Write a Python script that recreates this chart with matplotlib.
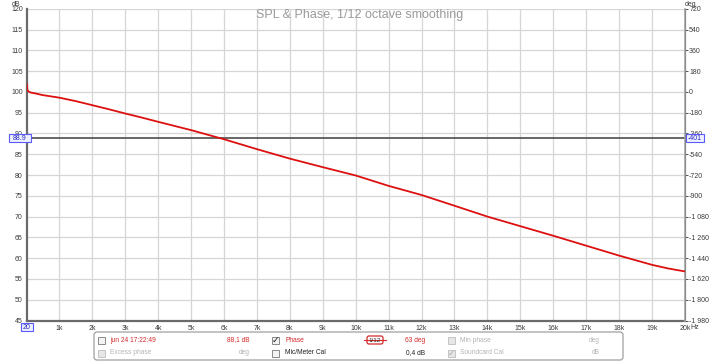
import matplotlib
matplotlib.use("Agg")
import matplotlib.pyplot as plt
from matplotlib.patches import FancyBboxPatch, Rectangle

plt.rcParams['font.family'] = ['Liberation Sans', 'DejaVu Sans']

# === DATA ===
freq_hz = [20, 25, 35, 60, 120, 250, 500, 1000, 1500, 2000, 2500, 3000, 3500,
           4000, 5000, 6000, 7000, 8000, 9000, 10000, 11000, 12000, 13000,
           14000, 15000, 16000, 17000, 18000, 19000, 19500, 20000]
phase_deg = [65, 40, 15, 5, -5, -12, -28, -50, -80, -115, -150, -187, -222,
             -259, -331, -410, -496, -578, -652, -724, -814, -893, -986,
             -1080, -1163, -1246, -1332, -1418, -1498, -1530, -1555]

spl_ticks = list(range(45, 121, 5))
phase_ticks = list(range(-1980, 721, 180))
freq_ticks = list(range(1000, 20001, 1000))
freq_labels = [f"{f // 1000}k" for f in freq_ticks]

cursor_spl = 88.9
cursor_phase = "-401"
cursor_freq = "20"

title = "SPL & Phase, 1/12 octave smoothing"

# === FIGURE ===
W, H = 718, 362
fig = plt.figure(figsize=(W / 100, H / 100), dpi=100)
fig.patch.set_facecolor('white')

left, right, top, bottom = 27, 685, 8.75, 320.5
ax = fig.add_axes([left / W, 1 - bottom / H, (right - left) / W, (bottom - top) / H])
ax2 = ax.twinx()

ax.set_xlim(20, 20000)
ax.set_ylim(45, 120)
ax2.set_ylim(-1980, 720)

ax.set_xticks(freq_ticks)
ax.set_xticklabels(freq_labels)
ax.set_yticks(spl_ticks)
ax.set_yticklabels([str(v) for v in spl_ticks])
ax2.set_yticks(phase_ticks)
ax2.set_yticklabels([f"{v:,}".replace(",", " ") for v in phase_ticks])

ax.grid(True, color='#d6d6d6', lw=0.9)
ax.set_axisbelow(True)

tick_col = '#3a3a3a'
ax.tick_params(axis='both', labelsize=5, colors=tick_col, length=0, pad=3)
ax2.tick_params(axis='y', labelsize=5, colors=tick_col, length=2, width=0.6, pad=1)

for sp in ['top']:
    ax.spines[sp].set_visible(False)
    ax2.spines[sp].set_visible(False)
ax.spines['left'].set_color('#6a6a6a')
ax.spines['left'].set_linewidth(1.6)
ax.spines['bottom'].set_color('#6a6a6a')
ax.spines['bottom'].set_linewidth(1.6)
ax2.spines['right'].set_color('#a8a8a8')
ax2.spines['right'].set_linewidth(1.2)
ax2.spines['left'].set_visible(False)
ax2.spines['bottom'].set_visible(False)

# cursor line
ax.axhline(cursor_spl, color='#5a5a5a', lw=1.3, zorder=3)

# phase trace
ax2.plot(freq_hz, phase_deg, color='#dd1010', lw=1.3, zorder=4)

# === OVERLAY (pixel coordinates) ===
ov = fig.add_axes([0, 0, 1, 1], zorder=10)
ov.set_xlim(0, W)
ov.set_ylim(H, 0)
ov.axis('off')
ov.patch.set_alpha(0)

ov.text(360, 15, title, ha='center', va='center', fontsize=9, color='#9a9a9a')
ov.text(16, 4, "dB", ha='center', va='center', fontsize=5, color=tick_col)
ov.text(691, 4, "deg", ha='center', va='center', fontsize=5, color=tick_col)
ov.text(690, 327.5, "Hz", ha='left', va='center', fontsize=5, color=tick_col)


def cursor_box(x0, y0, w, h, txt):
    ov.add_patch(Rectangle((x0, y0), w, h, facecolor='#eef0ff', edgecolor='#5a5aff', lw=0.8))
    ov.text(x0 + w / 2, y0 + h / 2 + 0.3, txt, ha='center', va='center', fontsize=5, color='#2a2ac0')


cursor_box(9, 134, 22, 8, f"{cursor_spl}")
cursor_box(686, 134, 18, 8, cursor_phase)
cursor_box(21, 323, 12, 8, cursor_freq)

# legend panel
ov.add_patch(FancyBboxPatch((94, 332), 529, 28, boxstyle="round,pad=0,rounding_size=3",
                            facecolor='white', edgecolor='#a0a0a0', lw=0.9))


def checkbox(x, y, checked=False, enabled=True):
    ec = '#8a8a8a' if enabled else '#c4c4c4'
    fc = '#f4f4f4' if enabled else '#e6e6e6'
    ov.add_patch(Rectangle((x, y - 3.5), 7, 7, facecolor=fc, edgecolor=ec, lw=0.7))
    if checked:
        ov.text(x + 3.6, y + 0.2, "\u2713", ha='center', va='center', fontsize=6.5,
                color='#222222' if enabled else '#b0b0b0', family='DejaVu Sans',
                fontweight='bold')


red = '#d42a2a'
grey = '#b4b4b4'
r1, r2 = 340, 353

checkbox(98, r1)
ov.text(110, r1, "jun 24 17:22:49", ha='left', va='center', fontsize=4.8, color=red)
ov.text(250, r1, "88,1 dB", ha='right', va='center', fontsize=4.8, color=red)
checkbox(272, r1, checked=True)
ov.text(285, r1, "Phase", ha='left', va='center', fontsize=4.8, color=red)
ov.plot([364, 386], [r1, r1], color=red, lw=0.8)
ov.add_patch(FancyBboxPatch((367, r1 - 4), 16, 8, boxstyle="round,pad=0,rounding_size=2",
                            facecolor='white', edgecolor=red, lw=0.9))
ov.text(375, r1 + 0.3, "1/12", ha='center', va='center', fontsize=4.5, color='#333333')
ov.text(425, r1, "63 deg", ha='right', va='center', fontsize=4.8, color=red)
checkbox(448, r1, enabled=False)
ov.text(460, r1, "Min phase", ha='left', va='center', fontsize=4.8, color=grey)
ov.text(600, r1, "deg", ha='right', va='center', fontsize=4.8, color=grey)

checkbox(98, r2, enabled=False)
ov.text(110, r2, "Excess phase", ha='left', va='center', fontsize=4.8, color=grey)
ov.text(250, r2, "deg", ha='right', va='center', fontsize=4.8, color=grey)
checkbox(272, r2)
ov.text(285, r2, "Mic/Meter Cal", ha='left', va='center', fontsize=4.8, color='#222222')
ov.text(425, r2, "0,4 dB", ha='right', va='center', fontsize=4.8, color='#222222')
checkbox(448, r2, checked=True, enabled=False)
ov.text(460, r2, "Soundcard Cal", ha='left', va='center', fontsize=4.8, color=grey)
ov.text(600, r2, "dB", ha='right', va='center', fontsize=4.8, color=grey)

fig.savefig("out.png", dpi=100)
